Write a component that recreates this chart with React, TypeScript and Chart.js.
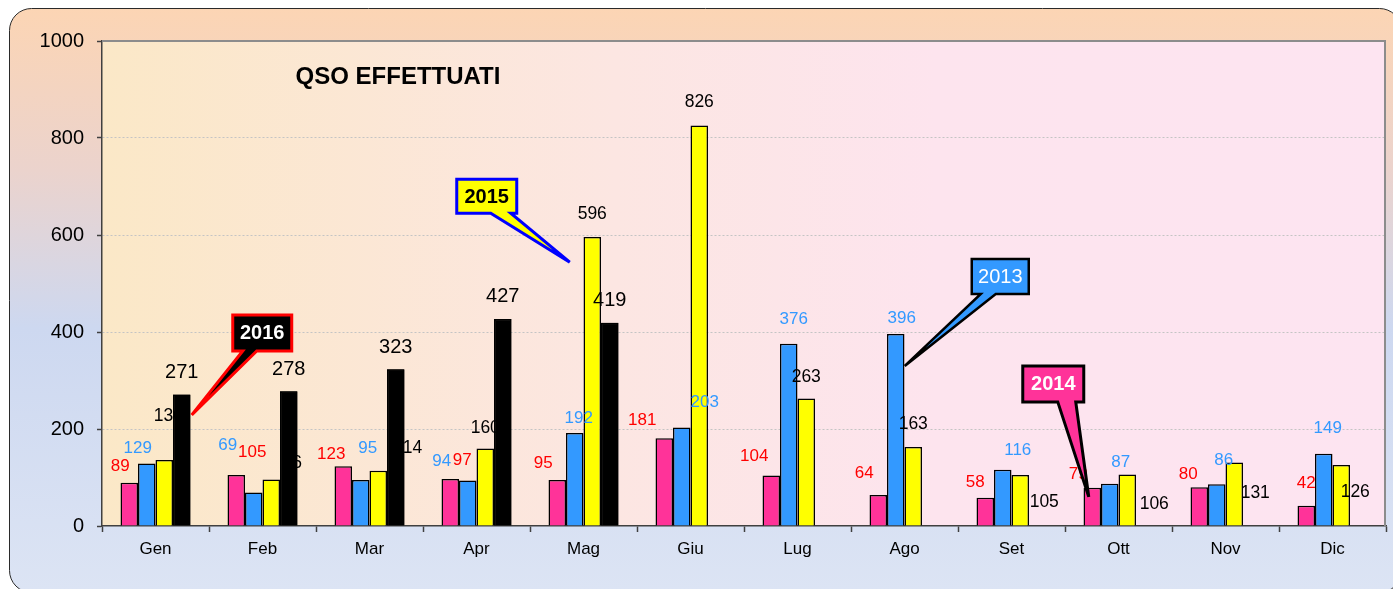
import React, { useEffect, useRef } from 'react';
import { Chart, registerables } from 'chart.js';

Chart.register(...registerables);

// ---------- data ----------
const MONTHS = ['Gen', 'Feb', 'Mar', 'Apr', 'Mag', 'Giu', 'Lug', 'Ago', 'Set', 'Ott', 'Nov', 'Dic'];
const Y_TICKS = [0, 200, 400, 600, 800, 1000];
const TITLE = 'QSO EFFETTUATI';

const QSO_2014 = [89, 105, 123, 97, 95, 181, 104, 64, 58, 79, 80, 42];
const QSO_2013 = [129, 69, 95, 94, 192, 203, 376, 396, 116, 87, 86, 149];
const QSO_2015 = [136, 96, 114, 160, 596, 826, 263, 163, 105, 106, 131, 126];
const QSO_2016: (number | null)[] = [271, 278, 323, 427, 419, null, null, null, null, null, null, null];

// ---------- label placement (pixel offsets from bar top-centre) ----------
const OFF_2014 = [[-9, -17], [16, -23], [-12, -12], [12, -19], [-14, -17], [-22, -18], [-17, -19], [-14, -22], [-10, -16], [-14, -13], [-11, -13], [0, -22]];
const OFF_2013 = [[-9, -15], [-26, -47], [7, -32], [-26, -19], [4, -15], [23, -25], [5, -24], [6, -16], [15, -19], [11, -21], [7, -24], [4, -25]];
const OFF_2015 = [[4, -44], [21, -16], [30, -23], [0, -20], [0, -23], [0, -23], [0, -21], [0, -23], [24, 27], [27, 30], [21, 31], [14, 27]];
const OFF_2016 = [[0, -22], [0, -22], [0, -22], [0, -22], [0, -22], [0, -22], [0, -22], [0, -22], [0, -22], [0, -22], [0, -22], [0, -22]];

const FONT = '"Liberation Sans", Arial, Helvetica, sans-serif';

type Callout = {
  text: string; ds: number; idx: number; tipDx: number; tipValue: number;
  bx: number; by: number; w: number; h: number; wa: number; wb: number;
  fill: string; stroke: string; lw: number; color: string; bold: boolean;
};

const CALLOUTS: Callout[] = [
  { text: '2016', ds: 3, idx: 0, tipDx: 10, tipValue: 229, bx: 41, by: -100, w: 59, h: 36, wa: 10, wb: 24, fill: '#000000', stroke: '#FF0000', lw: 3, color: '#FFFFFF', bold: true },
  { text: '2015', ds: 2, idx: 4, tipDx: -22.5, tipValue: 544, bx: -113, by: -83, w: 60, h: 34, wa: 34, wb: 54, fill: '#FFFF00', stroke: '#0000FF', lw: 3, color: '#000000', bold: true },
  { text: '2013', ds: 1, idx: 7, tipDx: 9, tipValue: 330, bx: 67, by: -107, w: 57, h: 35, wa: 9, wb: 24, fill: '#3399FF', stroke: '#000000', lw: 2.5, color: '#FFFFFF', bold: false },
  { text: '2014', ds: 0, idx: 9, tipDx: -3.5, tipValue: 60, bx: -66, by: -131, w: 61, h: 36, wa: 35, wb: 53, fill: '#FF3399', stroke: '#000000', lw: 3, color: '#FFFFFF', bold: true },
];

function roundRectPath(ctx: CanvasRenderingContext2D, x: number, y: number, w: number, h: number, r: number) {
  ctx.beginPath();
  ctx.moveTo(x + r, y);
  ctx.lineTo(x + w - r, y);
  ctx.arcTo(x + w, y, x + w, y + r, r);
  ctx.lineTo(x + w, y + h - r);
  ctx.arcTo(x + w, y + h, x + w - r, y + h, r);
  ctx.lineTo(x + r, y + h);
  ctx.arcTo(x, y + h, x, y + h - r, r);
  ctx.lineTo(x, y + r);
  ctx.arcTo(x, y, x + r, y, r);
  ctx.closePath();
}

const decorPlugin = {
  id: 'decor',
  beforeDraw(chart: any) {
    const { ctx, chartArea: ca } = chart;
    ctx.save();
    // outer card
    roundRectPath(ctx, 9.5, 8.5, 1392, 584, 22);
    const g = ctx.createLinearGradient(0, 8, 0, 590);
    g.addColorStop(0, '#FCD5B4');
    g.addColorStop(0.28, '#EBD3CD');
    g.addColorStop(0.55, '#CDD8F0');
    g.addColorStop(1, '#DCE4F4');
    ctx.fillStyle = g;
    ctx.fill();
    ctx.lineWidth = 1;
    ctx.strokeStyle = '#2A2A2A';
    ctx.stroke();
    // plot area
    const pg = ctx.createLinearGradient(ca.left, 0, ca.right, 0);
    pg.addColorStop(0, '#FBE8C7');
    pg.addColorStop(0.4, '#FCE6E2');
    pg.addColorStop(0.65, '#FDE4EE');
    pg.addColorStop(1, '#FDE4F1');
    ctx.fillStyle = pg;
    ctx.fillRect(ca.left, ca.top, ca.right - ca.left, ca.bottom - ca.top);
    ctx.restore();
  },
  afterDatasetsDraw(chart: any) {
    const { ctx, chartArea: ca } = chart;
    const yScale = chart.scales.y;
    const series = [
      { data: QSO_2014, off: OFF_2014, color: '#FF0000', size: 17 },
      { data: QSO_2013, off: OFF_2013, color: '#3399FF', size: 17 },
      { data: QSO_2015, off: OFF_2015, color: '#000000', size: 17.5 },
    ];
    ctx.save();
    ctx.textAlign = 'center';
    ctx.textBaseline = 'middle';
    series.forEach((s, d) => {
      const meta = chart.getDatasetMeta(d);
      ctx.fillStyle = s.color;
      ctx.font = `${s.size}px ${FONT}`;
      s.data.forEach((v, i) => {
        if (v == null) return;
        const el = meta.data[i];
        ctx.fillText(String(v), el.x + s.off[i][0], el.y + s.off[i][1]);
      });
    });
    // black series drawn over the other labels
    const bm = chart.getDatasetMeta(3);
    ctx.save();
    ctx.beginPath();
    ctx.rect(ca.left, ca.top, ca.right - ca.left, ca.bottom - ca.top);
    ctx.clip();
    QSO_2016.forEach((v, i) => {
      if (v == null) return;
      bm.data[i].draw(ctx);
    });
    ctx.restore();
    ctx.fillStyle = '#000000';
    ctx.font = `20px ${FONT}`;
    QSO_2016.forEach((v, i) => {
      if (v == null) return;
      const el = bm.data[i];
      ctx.fillText(String(v), el.x + OFF_2016[i][0], el.y + OFF_2016[i][1]);
    });

    // plot border (top & right)
    ctx.strokeStyle = '#8C8C8C';
    ctx.lineWidth = 2;
    ctx.beginPath();
    ctx.moveTo(ca.left, ca.top);
    ctx.lineTo(ca.right - 1, ca.top);
    ctx.lineTo(ca.right - 1, ca.bottom);
    ctx.stroke();

    // title
    ctx.fillStyle = '#000000';
    ctx.font = `bold 24px ${FONT}`;
    ctx.fillText(TITLE, ca.left + 296, ca.top + 36);

    // callouts
    CALLOUTS.forEach((c) => {
      const el = chart.getDatasetMeta(c.ds).data[c.idx];
      const tx = el.x + c.tipDx;
      const ty = yScale.getPixelForValue(c.tipValue);
      const L = tx + c.bx;
      const T = ty + c.by;
      ctx.beginPath();
      ctx.moveTo(L, T);
      ctx.lineTo(L + c.w, T);
      ctx.lineTo(L + c.w, T + c.h);
      ctx.lineTo(L + c.wb, T + c.h);
      ctx.lineTo(tx, ty);
      ctx.lineTo(L + c.wa, T + c.h);
      ctx.lineTo(L, T + c.h);
      ctx.closePath();
      ctx.fillStyle = c.fill;
      ctx.fill();
      ctx.lineJoin = 'miter';
      ctx.miterLimit = 4;
      ctx.lineWidth = c.lw;
      ctx.strokeStyle = c.stroke;
      ctx.stroke();
      ctx.fillStyle = c.color;
      ctx.font = `${c.bold ? 'bold ' : ''}20px ${FONT}`;
      ctx.fillText(c.text, L + c.w / 2, T + c.h / 2 + 1);
    });
    ctx.restore();
  },
};

export default function App() {
  const canvasRef = useRef<HTMLCanvasElement | null>(null);

  useEffect(() => {
    document.body.style.margin = '0';
    const canvas = canvasRef.current;
    if (!canvas) return;
    const barStyle = { borderColor: '#000000', borderWidth: 1.5, categoryPercentage: 0.654, barPercentage: 1.0 };
    const chart = new Chart(canvas, {
      type: 'bar',
      data: {
        labels: MONTHS,
        datasets: [
          { label: '2014', data: QSO_2014, backgroundColor: '#FF3399', ...barStyle },
          { label: '2013', data: QSO_2013, backgroundColor: '#3399FF', ...barStyle },
          { label: '2015', data: QSO_2015, backgroundColor: '#FFFF00', ...barStyle },
          { label: '2016', data: QSO_2016, backgroundColor: '#000000', ...barStyle },
        ],
      },
      options: {
        responsive: false,
        maintainAspectRatio: false,
        animation: false,
        devicePixelRatio: 1,
        layout: { padding: { top: 41, right: 7, bottom: 0, left: 0 } },
        plugins: {
          legend: { display: false },
          tooltip: { enabled: false },
          title: { display: false },
        },
        scales: {
          x: {
            type: 'category',
            offset: true,
            grid: {
              offset: true,
              drawOnChartArea: false,
              drawTicks: true,
              tickLength: 6,
              tickColor: '#404040',
              tickWidth: 1.5,
            },
            border: { display: true, color: '#404040', width: 1.5 },
            ticks: {
              color: '#000000',
              font: { family: FONT, size: 17 },
              padding: 7,
              maxRotation: 0,
              autoSkip: false,
            },
            afterFit: (scale: any) => { scale.height = 63; },
          },
          y: {
            min: 0,
            max: 1000,
            afterBuildTicks: (scale: any) => { scale.ticks = Y_TICKS.map((v) => ({ value: v })); },
            grid: {
              color: (c: any) => (c.tick && (c.tick.value === 0 || c.tick.value === 1000) ? 'rgba(0,0,0,0)' : '#C4C4C4'),
              lineWidth: 1,
              tickLength: 5,
              tickColor: '#404040',
              tickWidth: 1.5,
            },
            border: { display: true, color: '#404040', width: 1.5, dash: [2, 2] },
            ticks: {
              color: '#000000',
              font: { family: FONT, size: 20 },
              padding: 13,
              callback: (v: any) => String(v),
            },
            afterFit: (scale: any) => { scale.width = 102; },
          },
        },
      },
      plugins: [decorPlugin],
    } as any);
    return () => chart.destroy();
  }, []);

  return (
    <div style={{ width: 1393, height: 589 }}>
      <canvas ref={canvasRef} width={1393} height={589} style={{ display: 'block' }} />
    </div>
  );
}
